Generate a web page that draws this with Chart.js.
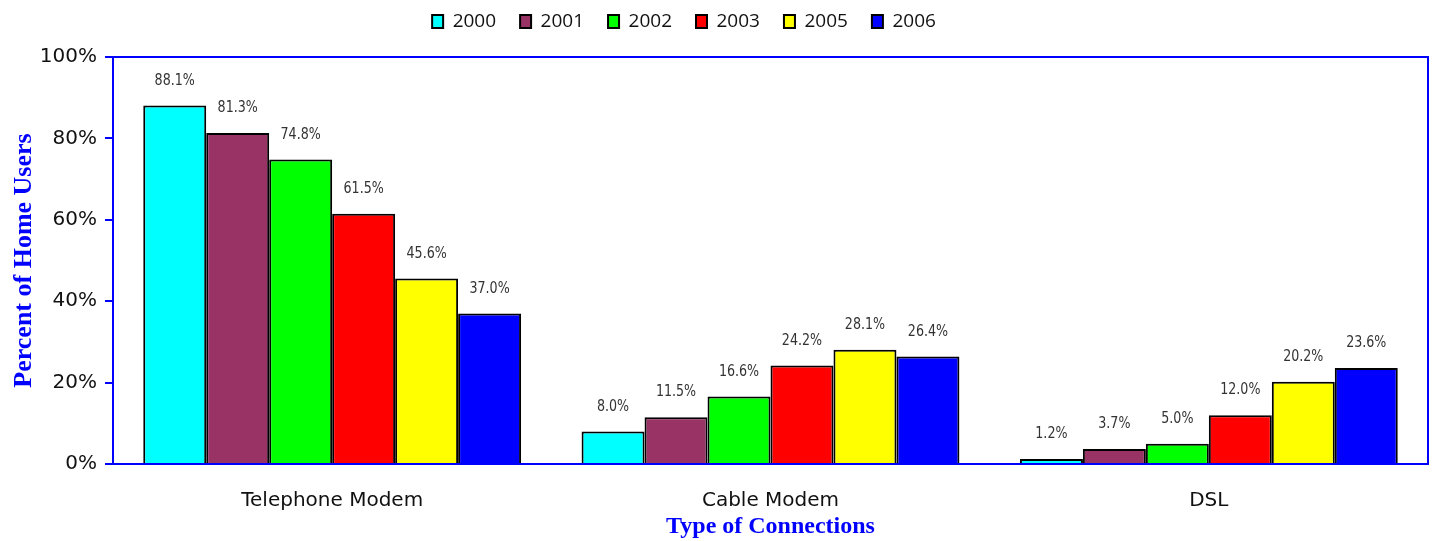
<!DOCTYPE html>
<html><head><meta charset="utf-8">
<script src="https://cdn.jsdelivr.net/npm/chart.js@4/dist/chart.umd.min.js"></script>
<style>html,body{margin:0;padding:0;background:#fff;}#wrap{width:1435px;height:541px;}</style>
</head><body><div id="wrap"><canvas id="c" width="1435" height="541"></canvas></div>
<script>
const categories = ['Telephone Modem', 'Cable Modem', 'DSL'];
const years = ['2000', '2001', '2002', '2003', '2005', '2006'];
const v2000 = [88.1, 8.0, 1.2];
const v2001 = [81.3, 11.5, 3.7];
const v2002 = [74.8, 16.6, 5.0];
const v2003 = [61.5, 24.2, 12.0];
const v2005 = [45.6, 28.1, 20.2];
const v2006 = [37.0, 26.4, 23.6];
const yTicks = [0, 20, 40, 60, 80, 100];
const colors = ['#00FFFF', '#993366', '#00FF00', '#FF0000', '#FFFF00', '#0000FF'];
const series = [v2000, v2001, v2002, v2003, v2005, v2006];

const datasets = series.map((d, i) => ({
  label: years[i], data: d, backgroundColor: colors[i],
  borderColor: '#000', borderWidth: 2, borderSkipped: 'bottom',
  barPercentage: 1.0, categoryPercentage: 0.862
}));

const frame = {
  id: 'frame',
  beforeInit(chart) {
    const lg = chart.legend;
    const of = lg.fit.bind(lg);
    lg.fit = function () { of(); this.height = 57; };
    const od = lg.draw.bind(lg);
    lg.draw = function () {
      const ctx = chart.ctx; ctx.save(); ctx.translate(-30, -12); od(); ctx.restore();
    };
  },
  afterDatasetsDraw(chart) {
    const ctx = chart.ctx;
    ctx.save();
    ctx.font = '16px "DejaVu Sans Condensed", "DejaVu Sans", sans-serif';
    ctx.fillStyle = '#333';
    ctx.textAlign = 'center'; ctx.textBaseline = 'middle';
    chart.data.datasets.forEach((ds, i) => {
      chart.getDatasetMeta(i).data.forEach((bar, j) => {
        ctx.save();
        ctx.translate(bar.x, bar.y - 25);
        ctx.scale(0.88, 1);
        ctx.fillText(ds.data[j].toFixed(1) + '%', 0, 0);
        ctx.restore();
      });
    });
    const a = chart.chartArea;
    ctx.strokeStyle = '#0000FF'; ctx.lineWidth = 2;
    ctx.beginPath();
    ctx.moveTo(a.left, a.top); ctx.lineTo(a.right, a.top); ctx.lineTo(a.right, a.bottom);
    ctx.stroke();
    ctx.restore();
  }
};

new Chart(document.getElementById('c'), {
  type: 'bar',
  data: { labels: categories, datasets },
  plugins: [frame],
  options: {
    responsive: false, animation: false,
    layout: { padding: { left: 0, right: 7, top: 0, bottom: 0 } },
    plugins: {
      legend: {
        position: 'top',
        labels: { boxWidth: 11, boxHeight: 13, padding: 24, color: '#111',
          font: { family: '"Open Sans", sans-serif', size: 19 } }
      },
      tooltip: { enabled: false }
    },
    scales: {
      x: {
        grid: { display: false, drawTicks: false },
        border: { color: '#0000FF', width: 2 },
        ticks: { padding: 25, color: '#111', font: { family: '"DejaVu Sans", sans-serif', size: 20 } },
        title: { display: true, text: 'Type of Connections', color: '#0000FF',
          font: { family: '"Liberation Serif", serif', size: 24, weight: 'bold' }, padding: { top: 0, bottom: 0 } },
        afterFit(s) { s.height = 77; }
      },
      y: {
        min: 0, max: 100,
        afterBuildTicks(s) { s.ticks = yTicks.map(v => ({ value: v })); },
        grid: { display: true, drawOnChartArea: false, drawTicks: true, tickLength: 8, color: '#0000FF', lineWidth: 2 },
        border: { color: '#0000FF', width: 2 },
        ticks: { padding: 8, color: '#111', callback: v => v + '%',
          font: { family: '"DejaVu Sans", sans-serif', size: 20 } },
        title: { display: true, text: 'Percent of Home Users', color: '#0000FF',
          font: { family: '"Liberation Serif", serif', size: 26, weight: 'bold' }, padding: { top: 9, bottom: 0 } },
        afterFit(s) { s.width = 113; }
      }
    }
  }
});
</script></body></html>
